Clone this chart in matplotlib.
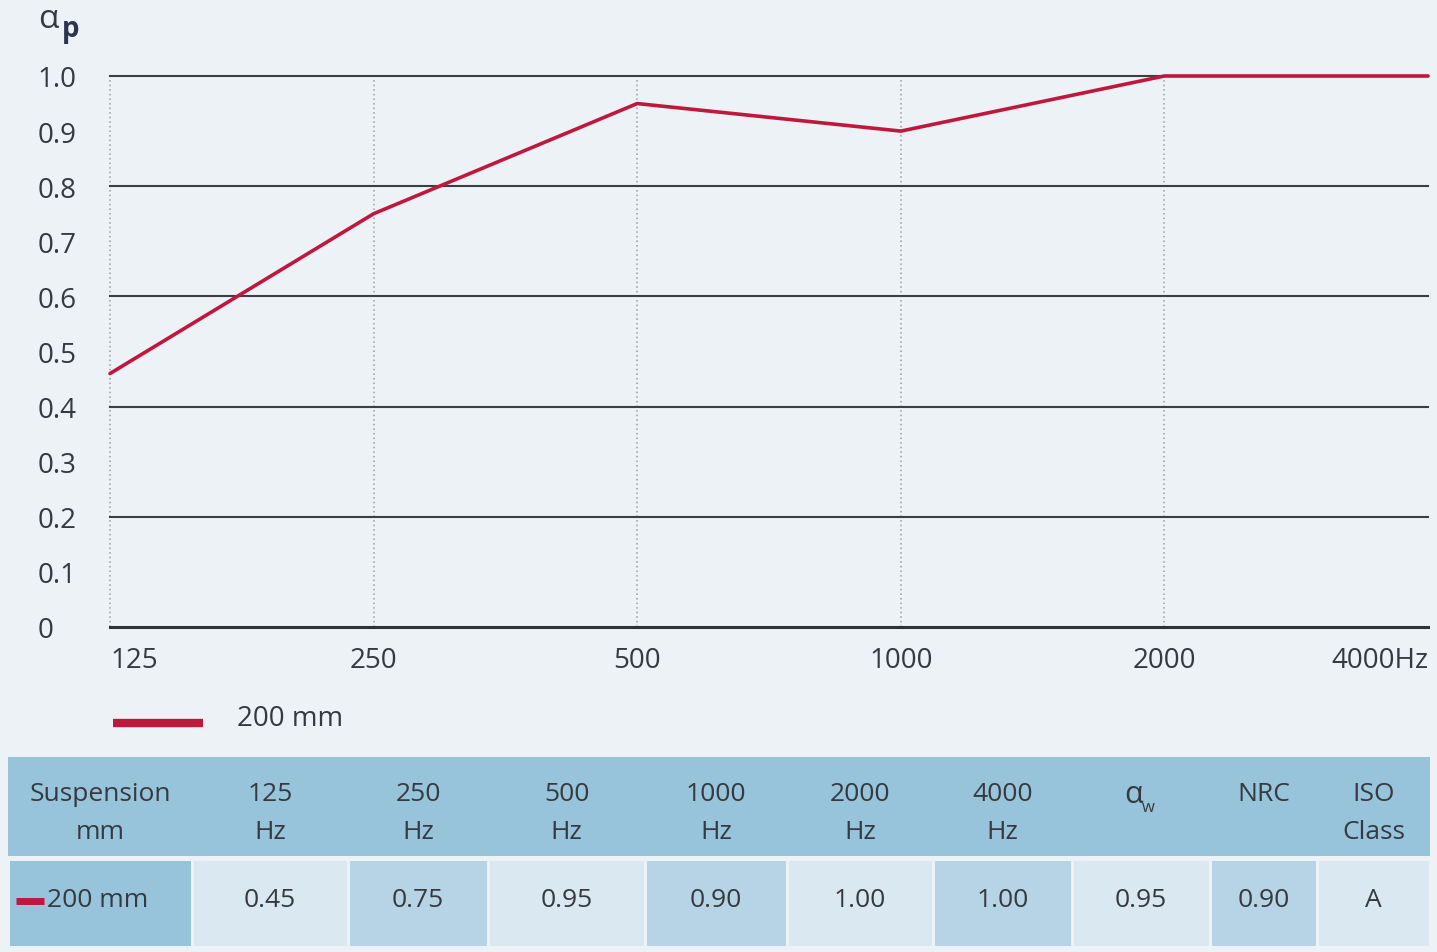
import matplotlib
matplotlib.use("Agg")
import matplotlib.pyplot as plt
from matplotlib.patches import Rectangle

# ---- data ----
freq_labels = ["125", "250", "500", "1000", "2000", "4000Hz"]
alpha_p = [0.46, 0.75, 0.95, 0.90, 1.00, 1.00]
y_ticks = [0, 0.1, 0.2, 0.3, 0.4, 0.5, 0.6, 0.7, 0.8, 0.9, 1.0]
y_tick_labels = ["0", "0.1", "0.2", "0.3", "0.4", "0.5", "0.6", "0.7", "0.8", "0.9", "1.0"]
solid_grid = [0.2, 0.4, 0.6, 0.8, 1.0]
series_label = "200 mm"

table_headers = ["Suspension\nmm", "125\nHz", "250\nHz", "500\nHz", "1000\nHz",
                 "2000\nHz", "4000\nHz", "α|w", "NRC", "ISO\nClass"]
table_row = ["200 mm", "0.45", "0.75", "0.95", "0.90", "1.00", "1.00", "0.95", "0.90", "A"]

# ---- style ----
W, H = 1437, 953
BG = "#edf2f6"
RED = "#c0173d"
TXT = "#353a40"
HDR = "#97c3db"
LIGHT = "#dae8f1"
MID = "#b6d4e6"
FONT = ["Open Sans", "DejaVu Sans"]
plt.rcParams["font.family"] = FONT

fig = plt.figure(figsize=(W / 100, H / 100), dpi=100, facecolor=BG)

# main axes in pixel layout
x0, x1 = 110, 1428
y0, y1 = 628, 77
ax = fig.add_axes([x0 / W, 1 - y0 / H, (x1 - x0) / W, (y0 - y1) / H])
ax.set_facecolor(BG)
n = len(freq_labels)
ax.set_xlim(0, n - 1)
ax.set_ylim(0, 1.0)
for s in ax.spines.values():
    s.set_visible(False)

# grid
for i in range(n - 1):
    ax.plot([i, i], [0, 1.0], color="#9a9ea3", lw=1.1, ls=(0, (1, 2)), zorder=1, clip_on=False)
for g in solid_grid:
    ax.axhline(g, color="#3c3f42", lw=1.5, zorder=2, clip_on=False)
ax.axhline(0, color="#2f3236", lw=2.2, zorder=2, clip_on=False)

ax.plot(range(n), alpha_p, color=RED, lw=2.6, zorder=3, clip_on=False, solid_capstyle="round")

ax.set_yticks(y_ticks)
ax.set_yticklabels(y_tick_labels)
ax.tick_params(axis="y", length=0, pad=52, labelsize=20, labelcolor=TXT)
for lab in ax.get_yticklabels():
    lab.set_horizontalalignment("left")
ax.set_xticks(range(n))
ax.set_xticklabels(freq_labels)
ax.tick_params(axis="x", length=0, pad=14, labelsize=20, labelcolor=TXT)
xl = ax.get_xticklabels()
xl[0].set_horizontalalignment("left")
xl[-1].set_horizontalalignment("right")

# y label alpha_p
fig.text(38 / W, 1 - 20 / H, "α", fontsize=24, color=TXT, ha="left", va="center")
fig.text(62 / W, 1 - 30 / H, "p", fontsize=20, color="#2b3550", fontweight="bold",
         ha="left", va="center")

# overlay axes in pixel coordinates for legend + table
ov = fig.add_axes([0, 0, 1, 1])
ov.set_xlim(0, W)
ov.set_ylim(H, 0)
ov.axis("off")

ov.plot([113, 203], [724, 724], color=RED, lw=6, solid_capstyle="butt")
ov.text(237, 719, series_label, fontsize=20, color=TXT, ha="left", va="center")

# table
col_edges = [8, 192, 348, 488, 645, 787, 933, 1072, 1210, 1317, 1430]
hdr_top, hdr_bot = 758, 857
row_top, row_bot = 862, 947
line_y = [795, 833]
ov.add_patch(Rectangle((col_edges[0], hdr_top), col_edges[-1] - col_edges[0],
                       hdr_bot - hdr_top, facecolor=HDR, edgecolor="none"))
for j, (h, v) in enumerate(zip(table_headers, table_row)):
    l, r = col_edges[j], col_edges[j + 1]
    cx = (l + r) / 2
    if j == 0:
        fc = HDR
    else:
        fc = LIGHT if j % 2 == 1 else MID
    ov.add_patch(Rectangle((l + 1.5, row_top), r - l - 3, row_bot - row_top,
                           facecolor=fc, edgecolor="none"))
    if "|" in h:
        main, sub = h.split("|")
        ov.text(cx + 2, 795, main, fontsize=22, color=TXT, ha="right", va="center")
        ov.text(cx + 1, 808, sub, fontsize=12, color=TXT, ha="left", va="center")
    else:
        for k, part in enumerate(h.split("\n")):
            ov.text(cx, line_y[k], part, fontsize=19, color=TXT, ha="center", va="center")
    if j == 0:
        ov.plot([16, 44], [902, 902], color=RED, lw=5, solid_capstyle="butt")
        ov.text(47, 901, v, fontsize=19, color=TXT, ha="left", va="center")
    else:
        ov.text(cx, 901, v, fontsize=19, color=TXT, ha="center", va="center")

fig.savefig("out.png", dpi=100, facecolor=BG)
